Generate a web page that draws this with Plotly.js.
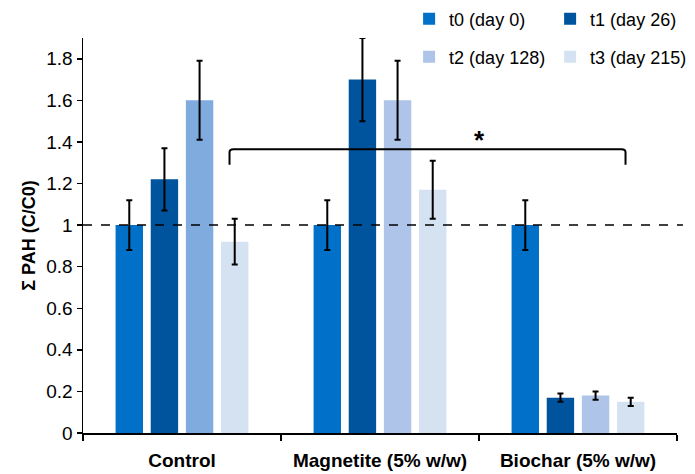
<!DOCTYPE html>
<html>
<head>
<meta charset="utf-8">
<script src="https://cdn.plot.ly/plotly-3.0.1.min.js"></script>
<style>html,body{margin:0;padding:0;background:#fff;}#chart{width:695px;height:474px;}</style>
</head>
<body>
<div id="chart"></div>
<script>
const categories = ['Control', 'Magnetite (5% w/w)', 'Biochar (5% w/w)'];
const seriesNames = ['t0 (day 0)', 't1 (day 26)', 't2 (day 128)', 't3 (day 215)'];
const t0 = [1.00, 1.00, 1.00];
const t0Err = [0.12, 0.12, 0.12];
const t1 = [1.22, 1.70, 0.17];
const t1Err = [0.15, 0.20, 0.02];
const t2 = [1.60, 1.60, 0.18];
const t2Err = [0.19, 0.19, 0.02];
const t3 = [0.92, 1.17, 0.15];
const t3Err = [0.11, 0.14, 0.02];
const yTicks = [0, 0.2, 0.4, 0.6, 0.8, 1, 1.2, 1.4, 1.6, 1.8];

const colT0 = '#0070c8', colT1 = '#00549e', colT2ctrl = '#7fabde', colT2 = '#aec4e8', colT3 = '#d5e2f2';
const font = 'Liberation Sans, Arial, sans-serif';

function err(a){ return {type:'data', array:a, visible:true, color:'#000', thickness:2, width:3}; }

const traces = [
  {type:'bar', name:seriesNames[0], x:categories, y:t0, error_y:err(t0Err), marker:{color:colT0}, offsetgroup:'g0', legend:'legend'},
  {type:'bar', name:seriesNames[1], x:categories, y:t1, error_y:err(t1Err), marker:{color:colT1}, offsetgroup:'g1', legend:'legend'},
  {type:'bar', name:seriesNames[2], x:categories.slice(0,1), y:t2.slice(0,1), error_y:err(t2Err.slice(0,1)), marker:{color:colT2ctrl}, offsetgroup:'g2', showlegend:false},
  {type:'bar', name:seriesNames[2], x:categories.slice(1), y:t2.slice(1), error_y:err(t2Err.slice(1)), marker:{color:colT2}, offsetgroup:'g2', legend:'legend2'},
  {type:'bar', name:seriesNames[3], x:categories, y:t3, error_y:err(t3Err), marker:{color:colT3}, offsetgroup:'g3', legend:'legend2'}
];

const legendBase = {orientation:'h', xanchor:'left', yanchor:'middle', font:{family:font, size:18, color:'#000'}, bgcolor:'rgba(0,0,0,0)', entrywidth:96, entrywidthmode:'pixels', traceorder:'normal'};

const layout = {
  width:695, height:474,
  margin:{l:83, r:18, t:38, b:41, autoexpand:false},
  paper_bgcolor:'#fff', plot_bgcolor:'#fff',
  barmode:'group', bargap:0.29, bargroupgap:0.22,
  font:{family:font, size:19, color:'#000'},
  showlegend:true,
  legend:Object.assign({}, legendBase, {x:0.549, y:1.048}),
  legend2:Object.assign({}, legendBase, {x:0.549, y:0.952}),
  xaxis:{type:'category', showline:true, linecolor:'#000', linewidth:1.5, ticks:'outside', tickson:'boundaries', ticklen:6, tickwidth:1.5, tickcolor:'#000', showgrid:false, zeroline:false, tickangle:0, ticklabelstandoff:10, tickfont:{family:font, size:19, color:'#000', weight:'bold'}, range:[-0.5, 2.5]},
  yaxis:{range:[0,1.9], tickvals:yTicks, ticktext:yTicks.map(v=>String(v)), showline:true, linecolor:'#000', linewidth:1.5, ticks:'outside', ticklen:5, tickwidth:1.5, tickcolor:'#000', showgrid:false, zeroline:false, tickfont:{family:font, size:19, color:'#000'}, title:{text:'Σ PAH (C/C0)', font:{family:font, size:18, color:'#000', weight:'bold'}, standoff:6}},
  shapes:[
    {type:'line', xref:'paper', yref:'y', x0:0, x1:1.01, y0:1, y1:1, line:{color:'#000', width:1.5, dash:'dash'}},
    {type:'path', xref:'x', yref:'y', path:'M 0.24 1.29 L 0.24 1.35 Q 0.24 1.365 0.26 1.365 L 2.22 1.365 Q 2.24 1.365 2.24 1.35 L 2.24 1.29', line:{color:'#000', width:2}}
  ],
  annotations:[
    {xref:'x', yref:'y', x:1.5, y:1.365, yanchor:'bottom', yshift:-8, text:'*', showarrow:false, font:{family:font, size:26, color:'#000', weight:'bold'}}
  ]
};

Plotly.newPlot('chart', traces, layout, {displayModeBar:false, staticPlot:true});
</script>
</body>
</html>
